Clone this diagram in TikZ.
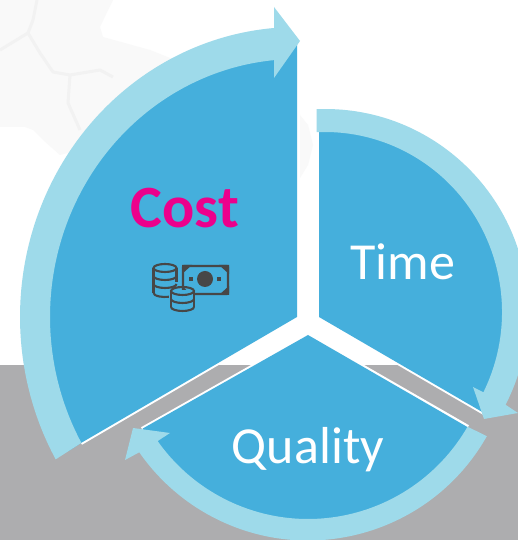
\documentclass[tikz,border=0pt]{standalone}
\usepackage{fontspec}
\setmainfont{Carlito}
\definecolor{sectorblue}{HTML}{45AFDC}
\definecolor{bandblue}{HTML}{9EDAEA}
\definecolor{floorgray}{HTML}{ADADAF}
\definecolor{mapfill}{HTML}{F9F9F9}
\definecolor{mapline}{HTML}{F2F2F2}
\definecolor{costpink}{HTML}{EC008C}
\definecolor{icondark}{HTML}{474747}
\tikzset{
  sector/.style={fill=sectorblue,draw=none},
  band/.style={fill=bandblue,draw=none},
  gapline/.style={draw=white,line width=4pt},
  label/.style={text=white,font=\fontsize{52}{52}\selectfont,inner sep=0pt,anchor=base},
  iconline/.style={draw=icondark,line width=2.1pt},
  iconfill/.style={fill=icondark,draw=none},
}
\begin{document}
\begin{tikzpicture}[x=1pt,y=1pt]
\useasboundingbox (0,0) rectangle (518,540);
\fill[white] (0,0) rectangle (518,540);
% faint map
\fill[mapfill] (0,540) -- (113,540) -- (100,513) -- (103,503) -- (150,490) -- (175,480) -- (120,400) -- (60,385) -- (43,400) -- (33,410) -- (25,413) -- (0,413) -- cycle;
\fill[mapfill] (300,425) -- (308,415) -- (313,395) -- (308,375) -- (300,362) -- cycle;
\draw[mapline,line width=3pt,line join=round] (37,540) -- (33,520) -- (28,507) -- (40,487) -- (53,468) -- (70,465) -- (100,470) -- (113,463);
\draw[mapline,line width=3pt,line join=round] (28,507) -- (0,490);
\draw[mapline,line width=3pt,line join=round] (70,465) -- (68,437) -- (80,410);
% floor
\fill[floorgray] (0,0) rectangle (518,175);
% white gaps
\draw[gapline] (297,223) -- (81,97);
\draw[gapline] (308,205) -- (142,111);
\draw[gapline] (319,223) -- (484,127);
\draw[gapline] (308,205) -- (468,113);
% sectors
\fill[sector] (297,223) -- (297,497) arc[start angle=90,end angle=209.3,x radius=262,y radius=274] -- (81,97) -- cycle;
\fill[sector] (319,223) -- (319,418) arc[start angle=90,end angle=-30.2,radius=195] -- cycle;
\fill[sector] (308,205) -- ([shift={(209.5:190)}]308,205) arc[start angle=209.5,end angle=330,radius=190] -- cycle;
% bands
\fill[band] ([shift={(209.4:277 and 290)}]297,223) arc[start angle=209.4,end angle=94.76,x radius=277,y radius=290]
  -- (274,533) -- (300,499) -- (274,462)
  -- ([shift={(95.3:247 and 258)}]297,223) arc[start angle=95.3,end angle=209.2,x radius=247,y radius=258] -- cycle;
\fill[band] ([shift={(92.4:203)}]325,228) arc[start angle=92.4,end angle=-27.2,radius=203]
  -- (518,127) -- (484,121) -- (473,153)
  -- ([shift={(-26.5:177 and 180)}]325,228) arc[start angle=-26.5,end angle=92.75,x radius=177,y radius=180] -- cycle;
\fill[band] ([shift={(-29.5:205.5)}]308,205) arc[start angle=-29.5,end angle=-145.2,radius=205.5]
  -- (125,80) -- (133,112) -- (170,107)
  -- ([shift={(-144.8:184)}]308,205) arc[start angle=-144.8,end angle=-29.9,radius=184] -- cycle;
% labels
\node[text=costpink,font=\fontsize{60}{60}\selectfont\bfseries,inner sep=0pt,anchor=base] (cost) at (185,312) {Cost};
\node[label] (time) at (403,260) {Time};
\node[label] (quality) at (308,76) {Quality};
% icon: banknote
\draw[iconline,rounded corners=1pt] (183,274) rectangle (228,246);
\fill[iconfill] (182,275) -- (192,275) -- (182,266) -- cycle;
\fill[iconfill] (229,275) -- (219,275) -- (229,266) -- cycle;
\fill[iconfill] (182,245) -- (192,245) -- (182,254) -- cycle;
\fill[iconfill] (229,245) -- (219,245) -- (229,254) -- cycle;
\fill[iconfill] (205,261) circle[radius=8];
\fill[iconfill] (189,259) rectangle (193,263);
\fill[iconfill] (217,259) rectangle (221,263);
% icon: coin stacks
\fill[sectorblue] (153,272) rectangle (177,244);
\draw[iconline] (165,272) ellipse[x radius=11.5,y radius=4];
\draw[iconline] (153.5,272) -- (153.5,247) (176.5,272) -- (176.5,258);
\draw[iconline] (153.5,264) arc[start angle=180,end angle=360,x radius=11.5,y radius=4];
\draw[iconline] (153.5,256) arc[start angle=180,end angle=360,x radius=11.5,y radius=4];
\draw[iconline] (153.5,247) arc[start angle=180,end angle=290,x radius=11.5,y radius=4];
\fill[sectorblue] (170,250) rectangle (195,229);
\draw[iconline] (182.5,249) ellipse[x radius=11.5,y radius=4];
\draw[iconline] (171,249) -- (171,233) (194,249) -- (194,233);
\draw[iconline] (171,241) arc[start angle=180,end angle=360,x radius=11.5,y radius=4];
\draw[iconline] (171,233) arc[start angle=180,end angle=360,x radius=11.5,y radius=4];
\end{tikzpicture}
\end{document}
